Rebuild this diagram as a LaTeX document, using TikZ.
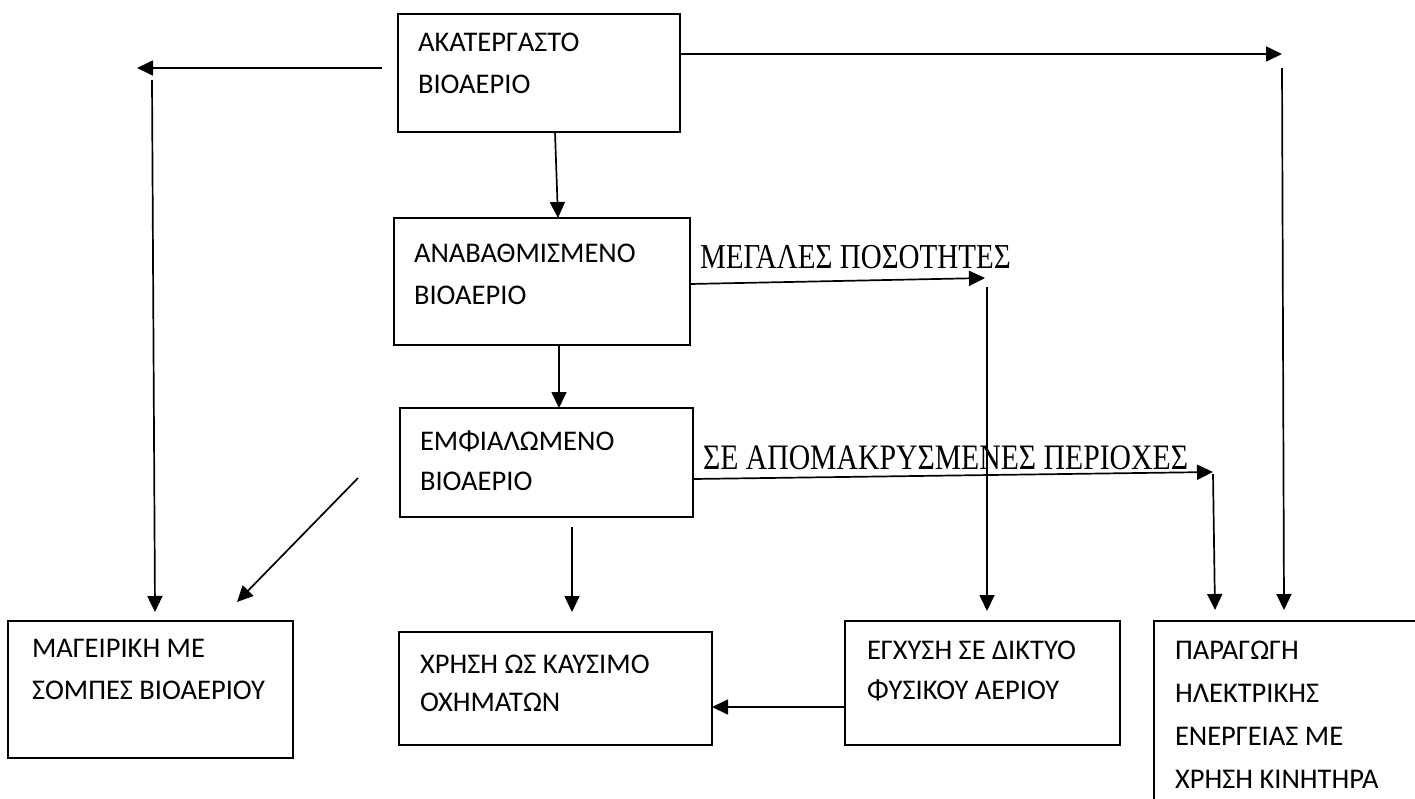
\documentclass[tikz,border=0pt]{standalone}
\usepackage{fontspec}
\setmainfont{Carlito}
\newfontfamily\labelfont{Liberation Serif}[FakeStretch=0.83]
\usetikzlibrary{arrows.meta}
\tikzset{
  boxnode/.style={draw, line width=1.7pt, inner sep=0pt, outer sep=0pt, anchor=north west},
  plainnode/.style={inner sep=0pt, outer sep=0pt, anchor=north west},
  boxline/.style={line width=1.7pt},
  txt/.style={inner sep=0pt, outer sep=0pt, anchor=north west, align=left, font=\fontsize{28.5pt}{42pt}\selectfont},
  lbl/.style={inner sep=0pt, outer sep=0pt, anchor=base west, font=\labelfont\fontsize{35pt}{40pt}\selectfont},
  arr/.style={line width=1.7pt, -{Triangle[length=16pt,width=15pt]}},
  plain/.style={line width=1.7pt}
}
\begin{document}
\begin{tikzpicture}[x=1pt,y=-1pt]
\useasboundingbox (0,0) rectangle (1415,798);
\fill[white] (0,0) rectangle (1415,798);
% boxes
\node[boxnode, minimum width=282pt, minimum height=118pt] (b1) at (398,14) {};
\node[boxnode, minimum width=296pt, minimum height=127pt] (b2) at (394,218) {};
\node[boxnode, minimum width=293pt, minimum height=109pt] (b3) at (400,408) {};
\node[boxnode, minimum width=285pt, minimum height=137pt] (b4) at (8,621) {};
\node[boxnode, minimum width=313pt, minimum height=113pt] (b5) at (399,632) {};
\node[boxnode, minimum width=275pt, minimum height=124pt] (b6) at (845,621) {};
\node[plainnode, minimum width=270pt, minimum height=180pt] (b7) at (1154,621) {};
\draw[boxline] (b7.north east) -- (b7.north west) -- (b7.south west);
% texts
\node[txt] (t1) at ([shift={(20pt,-19pt)}]b1.north west) {ΑΚΑΤΕΡΓΑΣΤΟ\\ΒΙΟΑΕΡΙΟ};
\node[txt] (t2) at ([shift={(20pt,-26pt)}]b2.north west) {ΑΝΑΒΑΘΜΙΣΜΕΝΟ\\ΒΙΟΑΕΡΙΟ};
\node[txt, font=\fontsize{28.5pt}{40pt}\selectfont] (t3) at ([shift={(20pt,-23pt)}]b3.north west) {ΕΜΦΙΑΛΩΜΕΝΟ\\ΒΙΟΑΕΡΙΟ};
\node[txt] (t4) at ([shift={(24pt,-18pt)}]b4.north west) {ΜΑΓΕΙΡΙΚΗ ΜΕ\\ΣΟΜΠΕΣ ΒΙΟΑΕΡΙΟΥ};
\node[txt, font=\fontsize{28.5pt}{38pt}\selectfont] (t5) at ([shift={(21pt,-23pt)}]b5.north west) {ΧΡΗΣΗ ΩΣ ΚΑΥΣΙΜΟ\\ΟΧΗΜΑΤΩΝ};
\node[txt, font=\fontsize{28.5pt}{40pt}\selectfont] (t6) at ([shift={(22pt,-20pt)}]b6.north west) {ΕΓΧΥΣΗ ΣΕ ΔΙΚΤΥΟ\\ΦΥΣΙΚΟΥ ΑΕΡΙΟΥ};
\node[txt, font=\fontsize{28.5pt}{43pt}\selectfont] (t7) at ([shift={(21pt,-20pt)}]b7.north west) {ΠΑΡΑΓΩΓΗ\\ΗΛΕΚΤΡΙΚΗΣ\\ΕΝΕΡΓΕΙΑΣ ΜΕ\\ΧΡΗΣΗ ΚΙΝΗΤΗΡΑ};
% coordinates
\coordinate (cL1a) at (382,68);
\coordinate (cL1b) at (137,68);
\coordinate (cV1a) at (152,80);
\coordinate (cV1b) at (155,612);
\coordinate (cR1) at (1282,54);
\coordinate (cV2a) at (1282,68);
\coordinate (cV2b) at (1284,610);
\coordinate (cM) at (985,278);
\coordinate (cV3a) at (987,287);
\coordinate (cV3b) at (987,611);
\coordinate (cS) at (1213,472);
\coordinate (cV4a) at (1213,474);
\coordinate (cV4b) at (1215,610);
\coordinate (cD1a) at (572,527);
\coordinate (cD1b) at (572,612);
\coordinate (cG1a) at (358,478);
\coordinate (cG1b) at (237,602);
% labels
\node[lbl] (l1) at (700,268) {ΜΕΓΑΛΕΣ ΠΟΣΟΤΗΤΕΣ};
\node[lbl, font=\labelfont\fontsize{35.8pt}{40pt}\selectfont] (l2) at (703,469) {ΣΕ ΑΠΟΜΑΚΡΥΣΜΕΝΕΣ ΠΕΡΙΟΧΕΣ};
% connectors
\draw[arr] (cL1a) -- (cL1b);
\draw[arr] (cV1a) -- (cV1b);
\draw[arr] ([yshift=-40pt]b1.north east) -- (cR1);
\draw[arr] (cV2a) -- (cV2b);
\draw[arr] ([xshift=16pt]b1.south) -- ([xshift=16pt]b2.north);
\draw[arr] ([yshift=-66pt]b2.north east) -- (cM);
\draw[arr] (cV3a) -- (cV3b);
\draw[arr] ([xshift=17pt]b2.south) -- ([xshift=12.5pt]b3.north);
\draw[arr] ([yshift=-71pt]b3.north east) -- (cS);
\draw[arr] (cV4a) -- (cV4b);
\draw[arr] (cD1a) -- (cD1b);
\draw[arr] (cG1a) -- (cG1b);
\draw[arr] ([yshift=-86pt]b6.north west) -- ([yshift=-75pt]b5.north east);
\end{tikzpicture}
\end{document}
